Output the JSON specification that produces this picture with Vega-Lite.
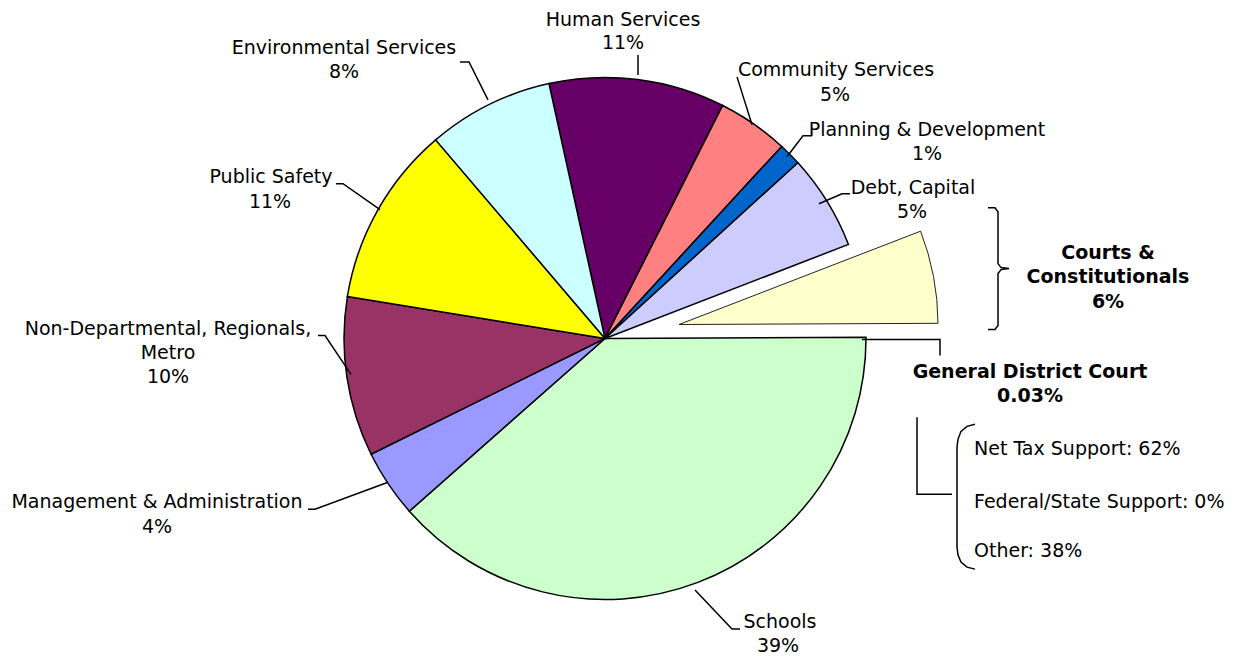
{
  "$schema": "https://vega.github.io/schema/vega-lite/v6.json",
  "width": 1258,
  "height": 656,
  "autosize": {"type": "fit", "contains": "padding"},
  "padding": 0,
  "background": "white",
  "config": {"view": {"stroke": null}, "font": "DejaVu Sans"},
  "datasets": {
    "slices": [
      {"seq": 1, "category": "Human Services", "share": 10.9},
      {"seq": 2, "category": "Community Services", "share": 4.4},
      {"seq": 3, "category": "Planning & Development", "share": 1.4},
      {"seq": 4, "category": "Debt, Capital", "share": 5.9},
      {"seq": 5, "category": "Courts & Constitutionals", "share": 5.8},
      {"seq": 6, "category": "Schools", "share": 38.6},
      {"seq": 7, "category": "Management & Administration", "share": 4.2},
      {"seq": 8, "category": "Non-Departmental, Regionals, Metro", "share": 9.9},
      {"seq": 9, "category": "Public Safety", "share": 11.2},
      {"seq": 10, "category": "Environmental Services", "share": 7.8}
    ],
    "leaders": [
      {"g": "env", "o": 1, "x": 460, "y": 62}, {"g": "env", "o": 2, "x": 469, "y": 62}, {"g": "env", "o": 3, "x": 488, "y": 100},
      {"g": "hum", "o": 1, "x": 638, "y": 55}, {"g": "hum", "o": 2, "x": 638, "y": 75},
      {"g": "com", "o": 1, "x": 737, "y": 77}, {"g": "com", "o": 2, "x": 752, "y": 125},
      {"g": "pla", "o": 1, "x": 812, "y": 136}, {"g": "pla", "o": 2, "x": 803, "y": 136}, {"g": "pla", "o": 3, "x": 787, "y": 157},
      {"g": "deb", "o": 1, "x": 850, "y": 194}, {"g": "deb", "o": 2, "x": 842, "y": 194}, {"g": "deb", "o": 3, "x": 819, "y": 204},
      {"g": "pub", "o": 1, "x": 336, "y": 184}, {"g": "pub", "o": 2, "x": 343, "y": 184}, {"g": "pub", "o": 3, "x": 380, "y": 210},
      {"g": "non", "o": 1, "x": 318, "y": 336}, {"g": "non", "o": 2, "x": 325, "y": 336}, {"g": "non", "o": 3, "x": 351, "y": 375},
      {"g": "man", "o": 1, "x": 308, "y": 510}, {"g": "man", "o": 2, "x": 315, "y": 510}, {"g": "man", "o": 3, "x": 388, "y": 483},
      {"g": "sch", "o": 1, "x": 695, "y": 591}, {"g": "sch", "o": 2, "x": 732, "y": 630}, {"g": "sch", "o": 3, "x": 740, "y": 630},
      {"g": "gdc", "o": 1, "x": 862, "y": 340}, {"g": "gdc", "o": 2, "x": 940, "y": 340}, {"g": "gdc", "o": 3, "x": 940, "y": 356},
      {"g": "lbar", "o": 1, "x": 917, "y": 418}, {"g": "lbar", "o": 2, "x": 917, "y": 495}, {"g": "lbar", "o": 3, "x": 952, "y": 495},
      {"g": "brace", "o": 1, "x": 988, "y": 208}, {"g": "brace", "o": 2, "x": 995, "y": 208}, {"g": "brace", "o": 3, "x": 998, "y": 212},
      {"g": "brace", "o": 4, "x": 998, "y": 264}, {"g": "brace", "o": 5, "x": 1001, "y": 268}, {"g": "brace", "o": 6, "x": 1009, "y": 269},
      {"g": "brace", "o": 7, "x": 1001, "y": 270}, {"g": "brace", "o": 8, "x": 998, "y": 274}, {"g": "brace", "o": 9, "x": 998, "y": 326},
      {"g": "brace", "o": 10, "x": 995, "y": 330}, {"g": "brace", "o": 11, "x": 988, "y": 330},
      {"g": "paren", "o": 1, "x": 975, "y": 425}, {"g": "paren", "o": 2, "x": 967, "y": 427}, {"g": "paren", "o": 3, "x": 961, "y": 432},
      {"g": "paren", "o": 4, "x": 958, "y": 440}, {"g": "paren", "o": 5, "x": 957, "y": 448}, {"g": "paren", "o": 6, "x": 957, "y": 548},
      {"g": "paren", "o": 7, "x": 958, "y": 556}, {"g": "paren", "o": 8, "x": 961, "y": 563}, {"g": "paren", "o": 9, "x": 967, "y": 568},
      {"g": "paren", "o": 10, "x": 975, "y": 570}
    ],
    "labels": [
      {"text": "Environmental Services", "x": 344, "y": 48},
      {"text": "8%", "x": 344, "y": 72},
      {"text": "Human Services", "x": 623, "y": 20},
      {"text": "11%", "x": 623, "y": 43},
      {"text": "Community Services", "x": 836, "y": 70},
      {"text": "5%", "x": 835, "y": 95},
      {"text": "Planning & Development", "x": 927, "y": 130},
      {"text": "1%", "x": 927, "y": 154},
      {"text": "Debt, Capital", "x": 913, "y": 188},
      {"text": "5%", "x": 912, "y": 212},
      {"text": "Public Safety", "x": 271, "y": 177},
      {"text": "11%", "x": 270, "y": 202},
      {"text": "Non-Departmental, Regionals,", "x": 168, "y": 330},
      {"text": "Metro", "x": 168, "y": 354},
      {"text": "10%", "x": 168, "y": 378},
      {"text": "Management & Administration", "x": 157, "y": 503},
      {"text": "4%", "x": 157, "y": 528},
      {"text": "Schools", "x": 780, "y": 623},
      {"text": "39%", "x": 778, "y": 647}
    ],
    "boldLabels": [
      {"text": "Courts &", "x": 1108, "y": 253},
      {"text": "Constitutionals", "x": 1108, "y": 277},
      {"text": "6%", "x": 1108, "y": 302},
      {"text": "General District Court", "x": 1030, "y": 373},
      {"text": "0.03%", "x": 1030, "y": 397}
    ],
    "breakdown": [
      {"text": "Net Tax Support: 62%", "x": 974, "y": 450},
      {"text": "Federal/State Support: 0%", "x": 974, "y": 503},
      {"text": "Other: 38%", "x": 974, "y": 552}
    ]
  },
  "layer": [
    {
      "data": {"name": "slices"},
      "mark": {"type": "arc", "radius": 261, "stroke": "black", "strokeWidth": 1.5},
      "encoding": {
        "theta": {"field": "share", "type": "quantitative", "stack": true, "scale": {"range": [-0.2164, 6.0668]}},
        "order": {"field": "seq", "type": "quantitative"},
        "color": {
          "field": "category", "type": "nominal", "legend": null,
          "scale": {
            "domain": ["Human Services", "Community Services", "Planning & Development", "Debt, Capital", "Courts & Constitutionals", "Schools", "Management & Administration", "Non-Departmental, Regionals, Metro", "Public Safety", "Environmental Services"],
            "range": ["#660066", "#FF8080", "#0066CC", "#CCCCFF", "#FFFFCC", "#CCFFCC", "#9999FF", "#993366", "#FFFF00", "#CCFFFF"]
          }
        },
        "opacity": {"condition": {"test": "datum.category === 'Courts & Constitutionals'", "value": 0}, "value": 1},
        "x": {"datum": 605, "type": "quantitative", "scale": {"domain": [0, 1258], "nice": false, "zero": false}, "axis": null},
        "y": {"datum": 339, "type": "quantitative", "scale": {"domain": [0, 656], "nice": false, "zero": false, "reverse": true}, "axis": null}
      }
    },
    {
      "data": {"name": "slices"},
      "mark": {"type": "arc", "radius": 259, "stroke": "#222222", "strokeWidth": 1},
      "encoding": {
        "theta": {"field": "share", "type": "quantitative", "stack": true},
        "order": {"field": "seq", "type": "quantitative"},
        "color": {"field": "category", "type": "nominal", "legend": null},
        "opacity": {"condition": {"test": "datum.category === 'Courts & Constitutionals'", "value": 1}, "value": 0},
        "x": {"datum": 679, "type": "quantitative"},
        "y": {"datum": 325, "type": "quantitative"}
      }
    },
    {
      "data": {"name": "leaders"},
      "mark": {"type": "line", "color": "black", "strokeWidth": 1.5},
      "encoding": {
        "x": {"field": "x", "type": "quantitative"},
        "y": {"field": "y", "type": "quantitative"},
        "detail": {"field": "g", "type": "nominal"},
        "order": {"field": "o", "type": "quantitative"}
      }
    },
    {
      "data": {"name": "labels"},
      "mark": {"type": "text", "fontSize": 19, "align": "center", "baseline": "middle", "color": "black"},
      "encoding": {
        "x": {"field": "x", "type": "quantitative"},
        "y": {"field": "y", "type": "quantitative"},
        "text": {"field": "text", "type": "nominal"}
      }
    },
    {
      "data": {"name": "boldLabels"},
      "mark": {"type": "text", "fontSize": 19, "fontWeight": "bold", "align": "center", "baseline": "middle", "color": "black"},
      "encoding": {
        "x": {"field": "x", "type": "quantitative"},
        "y": {"field": "y", "type": "quantitative"},
        "text": {"field": "text", "type": "nominal"}
      }
    },
    {
      "data": {"name": "breakdown"},
      "mark": {"type": "text", "fontSize": 19, "align": "left", "baseline": "middle", "color": "black"},
      "encoding": {
        "x": {"field": "x", "type": "quantitative"},
        "y": {"field": "y", "type": "quantitative"},
        "text": {"field": "text", "type": "nominal"}
      }
    }
  ]
}
